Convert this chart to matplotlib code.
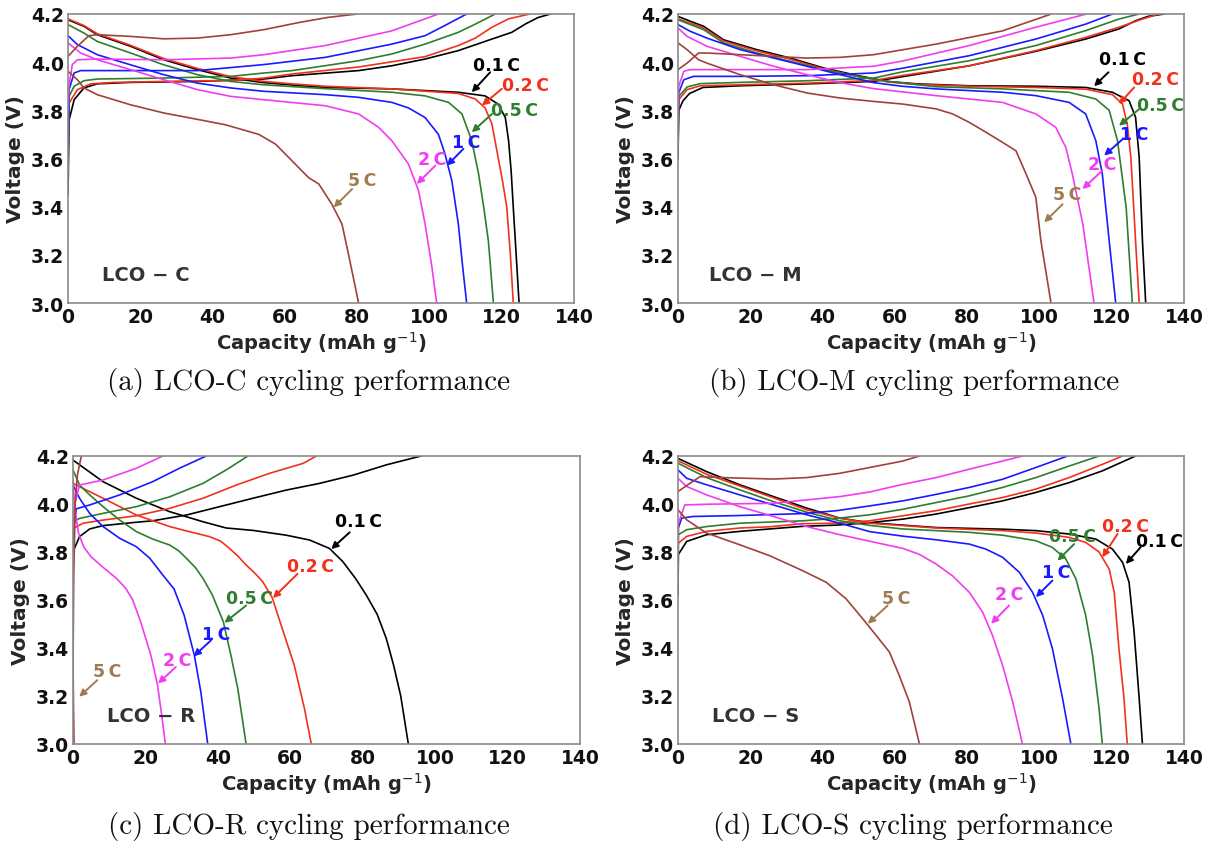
import matplotlib
matplotlib.use("Agg")
import matplotlib.pyplot as plt

# ---------------------------------------------------------------------------
# Galvanostatic charge / discharge curves (capacity in mAh/g, voltage in V)
# Each list holds (capacity, voltage) pairs.
# ---------------------------------------------------------------------------
RATES = ["0.1\u2009C", "0.2\u2009C", "0.5\u2009C", "1\u2009C", "2\u2009C", "5\u2009C"]
LINE_COLORS = ["#000000", "#f2311d", "#2f7d2f", "#1a1aff", "#f23cf2", "#a0413a"]
LABEL_COLORS = ["#000000", "#f2311d", "#2f7d2f", "#1a1aff", "#f23cf2", "#a07b4f"]

# ---- LCO-C ----
A_01_chg = [(0, 3.45), (0.3, 3.76), (1.7, 3.844), (4.4, 3.893), (8.1, 3.91), (17.3, 3.916), (35.8, 3.92),
            (54.2, 3.93), (62, 3.944), (80.4, 3.965), (89.6, 3.985), (98.8, 4.013), (108, 4.048),
            (117.3, 4.096), (122.8, 4.124), (126.5, 4.158), (130, 4.185), (133.5, 4.2)]
A_01_dis = [(0, 4.176), (4.4, 4.149), (8.1, 4.114), (17.3, 4.066), (26.5, 4.01), (35.8, 3.969), (45, 3.934),
            (54.2, 3.915), (62, 3.905), (71.2, 3.895), (89.6, 3.889), (108, 3.875), (115.4, 3.86),
            (119, 3.826), (121, 3.77), (121.9, 3.674), (122.6, 3.55), (123.2, 3.397), (124, 3.2), (124.8, 3.0)]
A_02_chg = [(0, 3.62), (0.3, 3.83), (2.6, 3.886), (6.3, 3.91), (12.7, 3.916), (26.5, 3.92), (45, 3.924),
            (54.2, 3.934), (62, 3.951), (80.4, 3.98), (98.8, 4.023), (108, 4.069), (112.7, 4.1),
            (117.3, 4.145), (121.9, 4.18), (127.8, 4.2)]
A_02_dis = [(0, 4.18), (4.4, 4.152), (8.1, 4.118), (17.3, 4.07), (26.5, 4.015), (35.8, 3.974), (45, 3.94),
            (54.2, 3.92), (62, 3.91), (71.2, 3.9), (89.6, 3.889), (108, 3.87), (112.7, 3.847),
            (115.4, 3.81), (117.3, 3.743), (119, 3.605), (120.3, 3.5), (121.4, 3.397), (122.4, 3.2), (123.2, 3.0)]
A_05_chg = [(0, 3.55), (0.3, 3.858), (1.7, 3.9), (4.4, 3.923), (8.1, 3.93), (26.5, 3.934), (45, 3.941),
            (54.2, 3.955), (62, 3.965), (80.4, 4.006), (89.6, 4.034), (98.8, 4.075), (108, 4.124),
            (112.7, 4.158), (118.2, 4.2)]
A_05_dis = [(0, 4.156), (4.4, 4.121), (8.1, 4.086), (17.3, 4.038), (26.5, 3.989), (35.8, 3.948), (45, 3.92),
            (54.2, 3.906), (71.2, 3.89), (89.6, 3.875), (98.8, 3.86), (105.3, 3.833), (109, 3.785),
            (111.7, 3.674), (113.6, 3.536), (115, 3.4), (116.3, 3.259), (117.7, 3.0)]
A_1_chg = [(0, 3.6), (0.3, 3.886), (1.7, 3.955), (3.5, 3.965), (17.3, 3.965), (35.8, 3.965), (54.2, 3.99),
           (71.2, 4.02), (89.6, 4.075), (98.8, 4.11), (104, 4.15), (110.3, 4.2)]
A_1_dis = [(0, 4.11), (2.6, 4.073), (8.1, 4.031), (17.3, 3.989), (26.5, 3.948), (35.8, 3.913), (45, 3.893),
           (54.2, 3.879), (71.2, 3.865), (80.4, 3.854), (89.6, 3.833), (94.2, 3.81), (98.8, 3.77),
           (102.5, 3.70), (104.3, 3.619), (106.2, 3.508), (108, 3.328), (109.2, 3.15), (110.3, 3.0)]
A_2_chg = [(0, 3.8), (0.3, 3.906), (1.2, 3.99), (2.6, 4.01), (8.1, 4.013), (26.5, 4.01), (45, 4.017),
           (54.2, 4.031), (71.2, 4.069), (89.6, 4.13), (102.5, 4.2)]
A_2_dis = [(0, 4.08), (3.5, 4.038), (8.1, 4.01), (17.3, 3.969), (26.5, 3.927), (35.8, 3.886), (45, 3.858),
           (54.2, 3.844), (71.2, 3.819), (80.4, 3.785), (85.9, 3.73), (89.6, 3.674), (94.2, 3.577),
           (97, 3.466), (98.8, 3.328), (100.7, 3.148), (102, 3.0)]
A_5_chg = [(0, 4.024), (2.6, 4.066), (5.8, 4.11), (8.1, 4.114), (17.3, 4.107), (26.5, 4.097), (35.8, 4.1),
           (45, 4.114), (54.2, 4.135), (64, 4.165), (72, 4.186), (80, 4.2)]
A_5_dis = [(0, 3.962), (2.6, 3.927), (4.4, 3.893), (8.1, 3.865), (17.3, 3.823), (26.5, 3.789), (33.9, 3.768),
           (43.6, 3.74), (52.8, 3.70), (57.4, 3.66), (62, 3.59), (66.6, 3.52), (69.4, 3.494), (73, 3.41),
           (75.8, 3.328), (77.6, 3.203), (80.4, 3.0)]

# ---- LCO-M ----
B_01_chg = [(0, 3.6), (0.2, 3.8), (1.4, 3.84), (3.2, 3.87), (6.9, 3.895), (17.2, 3.902), (36, 3.91),
            (54.1, 3.92), (62.2, 3.94), (80.6, 3.985), (99, 4.045), (112.8, 4.096), (122, 4.138),
            (126.6, 4.172), (130, 4.19), (134.5, 4.2)]
B_01_dis = [(0, 4.19), (3.4, 4.17), (7.1, 4.149), (12.6, 4.093), (21.8, 4.052), (31.1, 4.017), (40.3, 3.976),
            (49.5, 3.945), (58, 3.92), (66, 3.91), (80.6, 3.902), (99, 3.9), (112.8, 3.895), (120.2, 3.875),
            (124.8, 3.84), (126.6, 3.771), (127.6, 3.605), (128.5, 3.259), (129.4, 3.0)]
B_02_chg = [(0, 3.65), (0.2, 3.844), (2.5, 3.886), (6.2, 3.902), (17.2, 3.906), (36, 3.913), (54.1, 3.924),
            (62.2, 3.945), (80.6, 3.985), (99, 4.048), (112.8, 4.103), (122, 4.145), (128.5, 4.179), (133, 4.2)]
B_02_dis = [(0, 4.18), (7.1, 4.142), (12.6, 4.088), (21.8, 4.047), (31.1, 4.012), (40.3, 3.972),
            (49.5, 3.942), (58, 3.918), (66, 3.908), (80.6, 3.9), (99, 3.895), (112.8, 3.888), (120.2, 3.865),
            (123, 3.826), (124.3, 3.743), (125.3, 3.605), (126.6, 3.259), (127.6, 3.0)]
B_05_chg = [(0, 3.65), (0.2, 3.858), (2.5, 3.897), (6.2, 3.911), (17.2, 3.916), (36, 3.923), (54.1, 3.934),
            (62.2, 3.96), (80.6, 4.006), (99, 4.069), (112.8, 4.131), (122, 4.179), (127.6, 4.2)]
B_05_dis = [(0, 4.176), (7.1, 4.135), (12.6, 4.08), (21.8, 4.038), (31.1, 4.003), (40.3, 3.969),
            (49.5, 3.941), (58, 3.92), (71.4, 3.898), (89.8, 3.889), (108.2, 3.875), (115.6, 3.847),
            (119.3, 3.80), (121.6, 3.674), (124, 3.397), (125.7, 3.0)]
B_1_chg = [(0, 3.7), (0.2, 3.872), (1.6, 3.927), (4.3, 3.941), (17.2, 3.941), (36, 3.944), (54.1, 3.955),
           (62.2, 3.975), (80.6, 4.027), (99, 4.096), (112.8, 4.158), (120.2, 4.2)]
B_1_dis = [(0, 4.156), (3.4, 4.128), (8, 4.1), (17.2, 4.052), (26.5, 4.017), (35.7, 3.983), (44.9, 3.948),
           (54.1, 3.915), (62, 3.9), (71.4, 3.889), (89.8, 3.875), (99, 3.861), (108.2, 3.833),
           (112.8, 3.785), (115.6, 3.674), (117.4, 3.536), (119.3, 3.259), (121.1, 3.0)]
B_2_chg = [(0, 3.75), (0.2, 3.9), (1.6, 3.962), (3.4, 3.969), (17.2, 3.969), (36, 3.969), (54.1, 3.983),
           (62.2, 4.005), (80.6, 4.069), (99, 4.145), (113, 4.2)]
B_2_dis = [(0, 4.142), (2.5, 4.107), (8, 4.066), (17.2, 4.024), (26.5, 3.983), (35.7, 3.948), (44.9, 3.915),
           (54.1, 3.89), (71.4, 3.861), (89.8, 3.833), (99, 3.785), (104.5, 3.73), (107.3, 3.646),
           (109.1, 3.536), (112, 3.328), (115.1, 3.0)]
B_5_chg = [(0, 3.969), (2.5, 3.996), (5.7, 4.038), (8, 4.038), (17.2, 4.031), (26.5, 4.024), (35.7, 4.017),
           (44.9, 4.02), (54.1, 4.031), (71.4, 4.075), (89.8, 4.13), (103.3, 4.2)]
B_5_dis = [(0, 4.08), (2.5, 4.052), (5.7, 4.01), (8, 3.996), (17.2, 3.948), (26.5, 3.906), (35.7, 3.872),
           (44.9, 3.851), (54.1, 3.837), (62.2, 3.826), (71.4, 3.806), (76, 3.785), (80.6, 3.75),
           (85.2, 3.709), (89.8, 3.667), (93.5, 3.632), (96.3, 3.536), (99, 3.439), (100.4, 3.259), (103.2, 3.0)]

# ---- LCO-R ----
C_01_chg = [(0, 3.8), (0.2, 3.808), (1.8, 3.864), (4.6, 3.896), (8.3, 3.91), (17.5, 3.924), (22, 3.93),
            (31.3, 3.954), (40.5, 3.989), (49.7, 4.024), (58.9, 4.058), (68.1, 4.086), (77.3, 4.12),
            (86.5, 4.163), (96.1, 4.2)]
C_01_dis = [(0, 4.183), (8.3, 4.093), (17.5, 4.024), (26.7, 3.968), (35.9, 3.926), (42.3, 3.90), (49.7, 3.89),
            (58.9, 3.87), (65.3, 3.85), (70.8, 3.815), (74.5, 3.76), (78, 3.69), (81, 3.62), (84, 3.54),
            (86.5, 3.44), (88.5, 3.33), (90.5, 3.2), (92.6, 3.0)]
C_02_chg = [(0, 3.82), (0.2, 3.899), (2.8, 3.92), (8.3, 3.933), (17.5, 3.951), (26.7, 3.982), (35.9, 4.024),
            (45.1, 4.079), (54.3, 4.128), (63.5, 4.169), (67.2, 4.2)]
C_02_dis = [(0, 4.086), (3.7, 4.058), (8.3, 4.024), (17.5, 3.954), (26.7, 3.906), (31.3, 3.888),
            (37.7, 3.864), (40.8, 3.845), (43.2, 3.815), (45.6, 3.782), (47.8, 3.746), (50.2, 3.712),
            (52.4, 3.676), (55, 3.61), (57.5, 3.494), (61.1, 3.328), (63.9, 3.148), (65.8, 3.0)]
C_05_chg = [(0, 3.83), (0.2, 3.927), (1.8, 3.94), (8.3, 3.961), (17.5, 3.989), (26.7, 4.03), (35.9, 4.086),
            (42.3, 4.142), (48.3, 4.2)]
C_05_dis = [(0, 4.142), (1.8, 4.079), (4.6, 4.038), (8.3, 3.989), (12.9, 3.933), (17.5, 3.885), (22, 3.854),
            (26.7, 3.829), (29.2, 3.805), (31.3, 3.774), (33.8, 3.735), (35.9, 3.69), (38.5, 3.62),
            (41.5, 3.51), (43.6, 3.37), (45.5, 3.231), (47.8, 3.0)]
C_1_chg = [(0, 3.87), (0.9, 3.98), (4.6, 3.996), (12.9, 4.038), (22, 4.093), (29.4, 4.149), (36.8, 4.2)]
C_1_dis = [(0, 4.079), (1.8, 4.024), (4.6, 3.961), (8.3, 3.906), (12.9, 3.857), (17.5, 3.822), (21.2, 3.774),
           (24.8, 3.704), (27.9, 3.646), (30.7, 3.536), (33.5, 3.37), (35.3, 3.217), (37.2, 3.0)]
C_2_chg = [(0, 3.9), (0.5, 4.0), (1.8, 4.079), (8.3, 4.1), (17.5, 4.149), (24.8, 4.2)]
C_2_dis = [(0, 4.1), (0.5, 3.98), (1.5, 3.88), (3, 3.82), (5, 3.78), (8, 3.74), (12, 3.69), (14.5, 3.65),
           (16.5, 3.6), (18.7, 3.508), (21.5, 3.37), (23.3, 3.25), (24.5, 3.12), (25.5, 3.0)]
C_5_chg = [(0, 3.3), (0.2, 3.7), (0.6, 4.0), (1.2, 4.12), (2.3, 4.2)]
C_5_dis = [(0, 3.35), (0.15, 3.15), (0.3, 3.0)]

# ---- LCO-S ----
D_01_chg = [(0, 3.62), (0.1, 3.79), (2.4, 3.844), (7.9, 3.872), (17.1, 3.886), (25.3, 3.896), (34.5, 3.907),
            (43.8, 3.912), (53, 3.922), (62.2, 3.937), (71.4, 3.958), (80.6, 3.985), (89.8, 4.013),
            (99, 4.048), (108.2, 4.089), (117.4, 4.138), (126.6, 4.2)]
D_01_dis = [(0, 4.19), (7.9, 4.135), (17.1, 4.08), (26.4, 4.031), (35.6, 3.983), (44.8, 3.941), (53, 3.922),
            (62.2, 3.912), (71.4, 3.902), (89.8, 3.895), (99, 3.889), (108.2, 3.875), (115.6, 3.854),
            (120.2, 3.812), (123, 3.757), (124.8, 3.674), (126.2, 3.466), (127.6, 3.19), (128.5, 3.0)]
D_02_chg = [(0, 3.66), (0.1, 3.837), (2.4, 3.865), (7.9, 3.886), (17.1, 3.9), (25.3, 3.905), (34.5, 3.918),
            (43.8, 3.92), (53, 3.93), (62.2, 3.951), (71.4, 3.972), (80.6, 4.0), (89.8, 4.027), (99, 4.062),
            (108.2, 4.11), (117.4, 4.165), (123, 4.2)]
D_02_dis = [(0, 4.18), (7.9, 4.124), (17.1, 4.075), (26.4, 4.026), (35.6, 3.976), (44.8, 3.941), (53, 3.92),
            (62.2, 3.91), (71.4, 3.9), (89.8, 3.889), (99, 3.879), (108.2, 3.861), (112.8, 3.84),
            (116.5, 3.80), (119.3, 3.729), (120.7, 3.632), (122, 3.397), (123.4, 3.19), (124.3, 3.0)]
D_05_chg = [(0, 3.7), (0.1, 3.872), (2.4, 3.893), (7.9, 3.906), (17.1, 3.92), (34.5, 3.93), (43.8, 3.94),
            (53, 3.955), (62.2, 3.978), (71.4, 4.006), (80.6, 4.034), (89.8, 4.069), (99, 4.11),
            (108.2, 4.158), (116.5, 4.2)]
D_05_dis = [(0, 4.17), (7.9, 4.11), (17.1, 4.059), (26.4, 4.01), (35.6, 3.966), (44.8, 3.93), (53, 3.911),
            (62.2, 3.896), (71.4, 3.889), (80.6, 3.882), (89.8, 3.87), (99, 3.847), (103.6, 3.819),
            (107.3, 3.771), (110.1, 3.688), (112.8, 3.536), (114.7, 3.37), (116.5, 3.148), (117.4, 3.0)]
D_1_chg = [(0, 3.75), (0.1, 3.9), (1, 3.941), (4.2, 3.948), (17.1, 3.952), (34.5, 3.96), (43.8, 3.972),
           (53, 3.992), (62.2, 4.013), (71.4, 4.04), (80.6, 4.069), (89.8, 4.103), (99, 4.152), (107.8, 4.2)]
D_1_dis = [(0, 4.142), (2.4, 4.107), (7.9, 4.08), (17.1, 4.038), (26.4, 3.996), (35.6, 3.955), (44.8, 3.92),
           (53, 3.885), (62.2, 3.866), (71.4, 3.851), (80.6, 3.833), (85.2, 3.812), (89.8, 3.778),
           (94.4, 3.716), (98.1, 3.632), (100.9, 3.536), (103.6, 3.397), (106.4, 3.19), (108.7, 3.0)]
D_2_chg = [(0, 3.8), (0.1, 3.92), (1.9, 3.996), (7.9, 3.999), (26.4, 4.003), (35.6, 4.017), (44.8, 4.031),
           (53, 4.05), (62.2, 4.082), (71.4, 4.11), (80.6, 4.145), (89.8, 4.179), (95.3, 4.2)]
D_2_dis = [(0, 4.107), (2.4, 4.073), (7.9, 4.038), (17.1, 3.989), (26.4, 3.948), (35.6, 3.906),
           (44.8, 3.872), (53, 3.845), (62.2, 3.815), (66.8, 3.79), (71.4, 3.75), (76, 3.70), (80.6, 3.632),
           (84.3, 3.549), (87, 3.453), (89.8, 3.328), (92.6, 3.176), (95.3, 3.0)]
D_5_chg = [(0, 4.052), (3.3, 4.086), (6.1, 4.114), (12.5, 4.11), (26.4, 4.104), (35.6, 4.11), (44.8, 4.128),
           (53, 4.152), (62.2, 4.179), (66.8, 4.2)]
D_5_dis = [(0, 3.976), (2.4, 3.934), (7.9, 3.879), (17.1, 3.83), (25.3, 3.785), (34.5, 3.722), (41, 3.674),
           (46.5, 3.605), (51.1, 3.522), (54.8, 3.453), (58.5, 3.383), (61.2, 3.286), (64, 3.176), (66.8, 3.0)]

# Rate-label call-outs: (text x, text y, arrow tail x, tail y, arrow head x, head y)
A_labels = [(118.6, 3.99, 116.8, 3.958, 111.7, 3.875), (126.5, 3.907, 120.0, 3.889, 114.5, 3.82),
            (123.5, 3.80, 117.3, 3.785, 111.7, 3.709), (110.3, 3.667, 109.4, 3.64, 104.8, 3.57),
            (100.7, 3.598, 101.6, 3.57, 96.5, 3.494), (81.3, 3.511, 78.6, 3.473, 73.5, 3.397)]
B_labels = [(123.0, 4.013, 119.1, 3.958, 115.1, 3.9), (132.2, 3.93, 126.2, 3.895, 122.0, 3.826),
            (133.6, 3.824, 127.6, 3.805, 122.0, 3.736), (126.2, 3.70, 123.0, 3.68, 117.9, 3.612),
            (117.4, 3.577, 117.4, 3.55, 111.9, 3.473), (107.8, 3.453, 106.4, 3.41, 101.3, 3.335)]
C_labels = [(78.7, 3.93, 76.4, 3.882, 71.3, 3.812), (65.6, 3.743, 62.0, 3.709, 55.2, 3.608),
            (48.7, 3.608, 47.8, 3.577, 41.8, 3.505), (39.5, 3.46, 38.1, 3.432, 33.3, 3.365),
            (28.9, 3.349, 28.4, 3.321, 23.5, 3.252), (9.5, 3.303, 6.7, 3.266, 1.7, 3.197)]
D_labels = [(133.1, 3.847, 128.0, 3.82, 123.9, 3.75), (123.9, 3.91, 121.6, 3.875, 117.4, 3.778),
            (109.1, 3.865, 109.6, 3.833, 105.0, 3.764), (104.5, 3.716, 103.6, 3.681, 99.0, 3.612),
            (91.6, 3.623, 91.6, 3.577, 86.6, 3.501), (60.3, 3.608, 58.0, 3.577, 52.5, 3.501)]

PANEL_NAMES = ["LCO \u2212 C", "LCO \u2212 M", "LCO \u2212 R", "LCO \u2212 S"]
CAPTIONS = ["(a) LCO-C cycling performance", "(b) LCO-M cycling performance",
            "(c) LCO-R cycling performance", "(d) LCO-S cycling performance"]
X_TICKS = [0, 20, 40, 60, 80, 100, 120, 140]
Y_TICKS = [3.0, 3.2, 3.4, 3.6, 3.8, 4.0, 4.2]

panels = [
    ([A_01_chg, A_02_chg, A_05_chg, A_1_chg, A_2_chg, A_5_chg],
     [A_01_dis, A_02_dis, A_05_dis, A_1_dis, A_2_dis, A_5_dis], A_labels),
    ([B_01_chg, B_02_chg, B_05_chg, B_1_chg, B_2_chg, B_5_chg],
     [B_01_dis, B_02_dis, B_05_dis, B_1_dis, B_2_dis, B_5_dis], B_labels),
    ([C_01_chg, C_02_chg, C_05_chg, C_1_chg, C_2_chg, C_5_chg],
     [C_01_dis, C_02_dis, C_05_dis, C_1_dis, C_2_dis, C_5_dis], C_labels),
    ([D_01_chg, D_02_chg, D_05_chg, D_1_chg, D_2_chg, D_5_chg],
     [D_01_dis, D_02_dis, D_05_dis, D_1_dis, D_2_dis, D_5_dis], D_labels),
]

W, H = 1214, 845
fig = plt.figure(figsize=(W / 100, H / 100), dpi=100)
fig.patch.set_facecolor("white")

# axes boxes in pixels: left, top, right, bottom
boxes = [(68, 15, 574, 304), (678, 15, 1184, 304), (73, 457, 580, 745), (678, 457, 1184, 745)]
caption_pos = [(309, 383), (914, 383), (309, 827), (913, 827)]

for (chg, dis, labels), box, name, cap, cpos in zip(panels, boxes, PANEL_NAMES, CAPTIONS, caption_pos):
    l, t, r, b = box
    ax = fig.add_axes([l / W, 1 - b / H, (r - l) / W, (b - t) / H])
    for curve_c, curve_d, col in zip(chg, dis, LINE_COLORS):
        for curve in (curve_c, curve_d):
            xs = [p[0] for p in curve]
            ys = [p[1] for p in curve]
            ax.plot(xs, ys, color=col, lw=1.2, solid_joinstyle="round")
    ax.set_xlim(0, 140)
    ax.set_ylim(3.0, 4.2)
    ax.set_xticks(X_TICKS)
    ax.set_yticks(Y_TICKS)
    ax.set_xticklabels([str(v) for v in X_TICKS])
    ax.set_yticklabels([f"{v:.1f}" for v in Y_TICKS])
    ax.tick_params(length=0, pad=3, labelsize=13.5)
    for lab in ax.get_xticklabels() + ax.get_yticklabels():
        lab.set_fontweight("bold")
        lab.set_color("#111111")
    for sp in ax.spines.values():
        sp.set_color("#8a8a8a")
        sp.set_linewidth(1.2)
    ax.set_xlabel("Capacity (mAh g$^{-1}$)", fontsize=14, fontweight="bold", color="#262626", labelpad=2)
    ax.set_ylabel("Voltage (V)", fontsize=14.5, fontweight="bold", color="#262626", labelpad=4)

    for (tx, ty, ax0, ay0, hx, hy), rate, lc in zip(labels, RATES, LABEL_COLORS):
        ax.annotate("", xy=(hx, hy), xytext=(ax0, ay0),
                    arrowprops=dict(arrowstyle="-|>", color=lc, lw=1.4, mutation_scale=10,
                                    shrinkA=0, shrinkB=0))
        ax.text(tx, ty, rate, color=lc, fontsize=12.5, fontweight="bold", family="DejaVu Sans",
                ha="center", va="center")

    ax.text(21.5, 3.12, name, fontsize=14, fontweight="bold", color="#333333", ha="center", va="center")

    fig.text(cpos[0] / W, 1 - cpos[1] / H, cap, fontsize=21, family="cmr10",
             ha="center", va="center", color="#111111")

fig.savefig("out.png", dpi=100, facecolor="white")
